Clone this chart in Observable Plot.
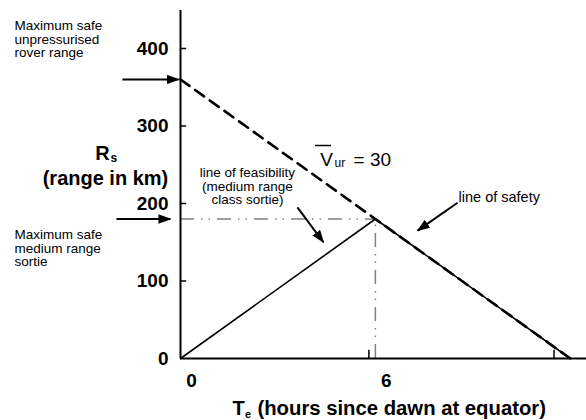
<!DOCTYPE html>
<html>
<head>
<meta charset="utf-8">
<script src="https://cdn.jsdelivr.net/npm/d3@7"></script>
<script src="https://cdn.jsdelivr.net/npm/@observablehq/plot@0.6"></script>
<style>
  body { margin: 0; background: #fff; }
  svg { font-family: "Liberation Sans", Arial, sans-serif; }
</style>
</head>
<body>
<div id="chart"></div>
<script>
// ---- data (hours since dawn, range in km) ----
const feasHours = [0, 6, 12];          // line of feasibility then line of safety
const feasRange = [0, 180, 0];
const safetyHours = [0, 12];           // Vur = 30 dashed line
const safetyRange = [360, 0];
const sortieHours = 6;                 // max safe medium range sortie point
const sortieRange = 180;
const yTickMarks = [100, 200, 300, 400];
const yTickLabels = [0, 100, 200, 300, 400];
const xTickLabels = [0, 6];
const xTickMarks = [5.8, 11.5];

// annotation arrows (data units)
const arrowX1 = [-1.79, -1.97, 3.60, 8.53];
const arrowY1 = [360, 180, 195, 201];
const arrowX2 = [-0.06, -0.31, 4.40, 7.30];
const arrowY2 = [360, 180, 150, 165];

// annotation texts
const leftNotes = ["Maximum safe\nunpressurised\nrover range", "Maximum safe\nmedium range\nsortie"];
const leftNotesY = [411.6, 141.9];
const feasNote = "line of feasibility\n(medium range\nclass sortie)";
const safetyNote = "line of safety";

const feas = feasHours.map((h, i) => ({h, r: feasRange[i]}));
const safe = safetyHours.map((h, i) => ({h, r: safetyRange[i]}));
const arrows = arrowX1.map((x1, i) => ({x1, y1: arrowY1[i], x2: arrowX2[i], y2: arrowY2[i]}));
const leftData = leftNotes.map((t, i) => ({t, y: leftNotesY[i]}));

const dashDot = "14,7,1.5,6,1.5,7";

const chart = Plot.plot({
  width: 586,
  height: 420,
  marginLeft: 180,
  marginRight: 0,
  marginTop: 10,
  marginBottom: 62,
  x: {domain: [0, 12.5], axis: null},
  y: {domain: [0, 449], axis: null},
  style: {background: "white", fontFamily: "Liberation Sans, Arial, sans-serif", overflow: "visible", color: "black"},
  marks: [
    // dash-dot guides
    Plot.ruleY([sortieRange], {x1: 0, x2: sortieHours, stroke: "#808080", strokeWidth: 1.5, strokeDasharray: dashDot}),
    Plot.ruleX([sortieHours], {y1: 0, y2: sortieRange, stroke: "#808080", strokeWidth: 1.5, strokeDasharray: dashDot}),
    // lines
    Plot.line(safe, {x: "h", y: "r", stroke: "black", strokeWidth: 2.6, strokeDasharray: "11,7"}),
    Plot.line(feas, {x: "h", y: "r", stroke: "black", strokeWidth: 1.6}),
    // axes
    Plot.ruleX([0], {y1: 0, y2: 449, stroke: "black", strokeWidth: 2}),
    Plot.ruleY([0], {x1: 0, x2: 12.5, stroke: "black", strokeWidth: 2}),
    Plot.ruleY(yTickMarks, {x1: 0, x2: 0.19, stroke: "black", strokeWidth: 1.5}),
    Plot.ruleX(xTickMarks, {y1: 0, y2: 10.5, stroke: "black", strokeWidth: 1.5}),
    Plot.text(yTickLabels, {x: 0, y: d => d, text: d => String(d), dx: -12, textAnchor: "end", fontSize: 19, fontWeight: "bold", fill: "black"}),
    Plot.text(xTickLabels, {x: d => d, y: 0, text: d => String(d), dx: 11, dy: 22, fontSize: 19, fontWeight: "bold", fill: "black"}),
    // axis titles
    Plot.text(["R"], {x: -2.40, y: 264.5, text: d => d, fontSize: 20, fontWeight: "bold", fill: "black"}),
    Plot.text(["s"], {x: -2.05, y: 258, text: d => d, fontSize: 12, fontWeight: "bold", fill: "black"}),
    Plot.text(["(range in km)"], {x: -2.31, y: 232, text: d => d, fontSize: 20, fontWeight: "bold", fill: "black"}),
    Plot.text(["T"], {x: 1.79, y: -64.5, text: d => d, fontSize: 20, fontWeight: "bold", fill: "black"}),
    Plot.text(["e"], {x: 2.08, y: -72, text: d => d, fontSize: 11, fontWeight: "bold", fill: "black"}),
    Plot.text(["(hours since dawn at equator)"], {x: 2.37, y: -64.5, text: d => d, textAnchor: "start", fontSize: 20.3, fontWeight: "bold", fill: "black"}),
    // annotations
    Plot.text(leftData, {x: -5.11, y: "y", text: "t", textAnchor: "start", fontSize: 13.5, lineHeight: 1.0, fill: "black"}),
    Plot.text([feasNote], {x: 2.06, y: 222, text: d => d, textAnchor: "middle", fontSize: 13.5, lineHeight: 1.0, fill: "black"}),
    Plot.text([safetyNote], {x: 8.56, y: 207.7, text: d => d, textAnchor: "start", fontSize: 14.5, fill: "black"}),
    Plot.text(["V"], {x: 4.50, y: 256, text: d => d, fontSize: 19, fill: "black"}),
    Plot.text(["ur"], {x: 4.74, y: 251.6, text: d => d, textAnchor: "start", fontSize: 12, fill: "black"}),
    Plot.text(["= 30"], {x: 5.33, y: 256, text: d => d, textAnchor: "start", fontSize: 19, fill: "black"}),
    Plot.ruleY([274.8], {x1: 4.16, x2: 4.65, stroke: "black", strokeWidth: 1.5}),
    // arrows
    Plot.link(arrows, {x1: "x1", y1: "y1", x2: "x2", y2: "y2", stroke: "black", strokeWidth: 2})
  ]
});

// filled arrowheads
const svg = d3.select(chart);
svg.insert("defs", ":first-child")
  .append("marker")
  .attr("id", "ah")
  .attr("viewBox", "0 -5 13 10")
  .attr("refX", 12)
  .attr("refY", 0)
  .attr("markerWidth", 13)
  .attr("markerHeight", 10)
  .attr("markerUnits", "userSpaceOnUse")
  .attr("orient", "auto")
  .append("path")
  .attr("d", "M0,-4.8L13,0L0,4.8Z")
  .attr("fill", "black");
svg.selectAll('g[aria-label="link"] path').attr("marker-end", "url(#ah)");

document.getElementById("chart").appendChild(chart);
</script>
</body>
</html>
